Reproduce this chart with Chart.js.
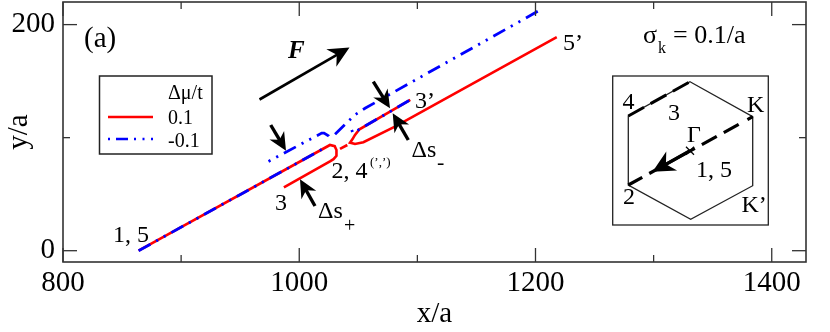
<!DOCTYPE html>
<html>
<head>
<meta charset="utf-8">
<title>Chart</title>
<script src="https://cdn.jsdelivr.net/npm/chart.js@4"></script>
<style>
  html, body { margin: 0; padding: 0; background: #fff; }
  canvas { display: block; }
</style>
</head>
<body>
<canvas id="grafica" width="830" height="332"></canvas>
<script>
// ======= DATOS =======
const xTicks = [800, 900, 1000, 1100, 1200, 1300, 1400];
const yTicks = [0, 100, 200];
const xLabels = [800, 1000, 1200, 1400];
const yLabels = [0, 200];
const legendTitle = "\u0394\u03bc/t";
const legendNames = ["0.1", "-0.1"];

// linea roja (0.1)
const redMain = [[864, 0], [1026, 93.5], [1030, 92.5], [1031.5, 89], [1031.5, 84], [1029, 81], [1026, 79], [987, 56]];
const redBridge = [[1034.5, 90], [1040.7, 93.5]];
const redUpper = [[1094, 133.4], [1051, 107.4], [1047.2, 102.4], [1045, 98.5], [1043, 95.6], [1047.2, 94.4], [1054.3, 95.9], [1081, 109.7], [1218, 188.9]];

// linea azul (-0.1)
const blueMain = [[864, 0], [1023, 91.8]];
const blueArc = [[974, 79], [1019, 104], [1021, 104], [1025, 101.5], [1027.5, 98]];
const blueUpper = [[1030.3, 103], [1047, 120], [1055.7, 126], [1204, 213]];
const blueLower = [[1044.4, 106.8], [1045.5, 104], [1051, 107.4], [1094, 133.4]];

const pares = a => a.map(p => ({ x: p[0], y: p[1] }));
const rojo = d => ({ data: pares(d), order: 2, borderColor: "#ff0000", borderWidth: 2.6, pointRadius: 0, tension: 0, fill: false });
// el azul va encima del rojo (order menor se dibuja al final)
const azul = (d, desfase) => ({ data: pares(d), order: 1, borderColor: "#0000ff", borderWidth: 2.8, borderDash: [13.5, 6.5, 2.2, 6.5, 2.2, 6.5], borderDashOffset: desfase || 0, pointRadius: 0, tension: 0, fill: false });

// ======= ANOTACIONES =======
const SERIF = '"Liberation Serif", "Times New Roman", serif';

function texto(ctx, s, x, y, size, estilo) {
  ctx.font = (estilo || "") + " " + size + "px " + SERIF;
  ctx.textAlign = "left";
  ctx.textBaseline = "alphabetic";
  ctx.fillStyle = "#000";
  ctx.fillText(s, x, y);
}

function linea(ctx, x1, y1, x2, y2, ancho, color, dash) {
  ctx.save();
  ctx.beginPath();
  ctx.moveTo(x1, y1);
  ctx.lineTo(x2, y2);
  ctx.lineWidth = ancho;
  ctx.strokeStyle = color || "#000";
  ctx.setLineDash(dash || []);
  ctx.stroke();
  ctx.restore();
}

function flecha(ctx, x1, y1, x2, y2, ancho, largo, medio) {
  const a = Math.atan2(y2 - y1, x2 - x1);
  const cx = Math.cos(a), sy = Math.sin(a);
  linea(ctx, x1, y1, x2 - cx * largo * 0.6, y2 - sy * largo * 0.6, ancho);
  ctx.beginPath();
  ctx.moveTo(x2, y2);
  ctx.lineTo(x2 - cx * largo - sy * medio, y2 - sy * largo + cx * medio);
  ctx.lineTo(x2 - cx * largo * 0.7, y2 - sy * largo * 0.7);
  ctx.lineTo(x2 - cx * largo + sy * medio, y2 - sy * largo - cx * medio);
  ctx.closePath();
  ctx.fillStyle = "#000";
  ctx.fill();
}

const marco = {
  id: "marco",
  afterDatasetsDraw(chart) {
    const ctx = chart.ctx;
    const { left, right, top, bottom } = chart.chartArea;
    const sx = chart.scales.x, sy = chart.scales.y;
    const tono = "#333";

    // marcas hacia adentro en los cuatro lados
    xTicks.forEach(v => {
      const p = sx.getPixelForValue(v);
      const l = xLabels.includes(v) ? 14 : 7;
      linea(ctx, p, bottom, p, bottom - l, 1.3, tono);
      linea(ctx, p, top, p, top + l, 1.3, tono);
    });
    yTicks.forEach(v => {
      const p = sy.getPixelForValue(v);
      const l = yLabels.includes(v) ? 14 : 7;
      linea(ctx, left, p, left + l, p, 1.3, tono);
      linea(ctx, right, p, right - l, p, 1.3, tono);
    });
    ctx.lineWidth = 1.6;
    ctx.strokeStyle = tono;
    ctx.strokeRect(left, top, right - left, bottom - top);

    // leyenda
    ctx.lineWidth = 1.5;
    ctx.strokeStyle = "#222";
    ctx.strokeRect(99.5, 76, 112.5, 78);
    texto(ctx, legendTitle, 168, 98.5, 20);
    texto(ctx, legendNames[0], 168, 124, 20);
    texto(ctx, legendNames[1], 168, 147, 20);
    linea(ctx, 108, 117, 153, 117, 2.4, "#ff0000");
    linea(ctx, 108, 139, 154, 139, 2.6, "#0000ff", [2, 6, 12, 6, 2, 6.5, 2, 6.5, 2, 6]);

    // textos del panel
    texto(ctx, "(a)", 84, 47, 29);
    texto(ctx, "F", 288, 58, 25, "italic bold");
    texto(ctx, "1, 5", 113, 241.5, 24);
    texto(ctx, "3", 275, 210, 24);
    texto(ctx, "2, 4", 331.5, 178, 24);
    texto(ctx, "(\u2019,\u2019)", 370, 166, 13);
    texto(ctx, "3\u2019", 415, 108, 24);
    texto(ctx, "5\u2019", 563, 49.5, 24);
    texto(ctx, "\u0394s", 318, 218, 24);
    texto(ctx, "+", 344, 232, 20);
    texto(ctx, "\u0394s", 411.5, 156.5, 24);
    texto(ctx, "-", 437, 168.5, 22);
    texto(ctx, "\u03c3", 643, 42.5, 26);
    texto(ctx, "k", 658, 53, 16);
    texto(ctx, "= 0.1/a", 673, 42.5, 26);

    // flechas
    flecha(ctx, 259.5, 99.5, 349.5, 47.5, 2.6, 21, 10);
    flecha(ctx, 270.7, 125, 286, 150.7, 3.4, 18, 8.5);
    flecha(ctx, 373.3, 81.7, 390, 108.3, 3.4, 18, 8.5);
    flecha(ctx, 408.3, 140, 392.7, 113.3, 3.4, 18, 8.5);
    flecha(ctx, 315, 206, 300, 179.3, 3.4, 18, 8.5);

    // recuadro: zona de Brillouin
    ctx.lineWidth = 1.3;
    ctx.strokeStyle = "#222";
    ctx.strokeRect(612.7, 76, 155.6, 149);
    ctx.beginPath();
    ctx.moveTo(690, 81.7);
    ctx.lineTo(752.7, 116.7);
    ctx.lineTo(752.7, 185.7);
    ctx.lineTo(690.7, 219.3);
    ctx.lineTo(628.3, 185);
    ctx.lineTo(628.3, 116);
    ctx.closePath();
    ctx.stroke();
    linea(ctx, 628.3, 116, 690, 81.7, 3, "#000", [18, 7.5]);
    linea(ctx, 752.7, 116.7, 628.3, 185, 3.2, "#000", [6, 10, 17, 8, 17, 8, 30, 0, 22, 8, 18, 40]);
    flecha(ctx, 690, 150.7, 652.5, 171.8, 3.2, 22, 11);
    linea(ctx, 686, 146.7, 694, 154.7, 1.3);
    linea(ctx, 694, 146.7, 686, 154.7, 1.3);
    texto(ctx, "4", 622.5, 108.5, 24);
    texto(ctx, "3", 668, 120, 24);
    texto(ctx, "K", 747, 111.5, 24);
    texto(ctx, "\u0393", 687, 141.5, 24);
    texto(ctx, "1, 5", 696, 177, 24);
    texto(ctx, "2", 623, 204, 24);
    texto(ctx, "K\u2019", 741.5, 211.5, 24);
  }
};

// ======= GRAFICA =======
new Chart(document.getElementById("grafica").getContext("2d"), {
  type: "line",
  data: {
    datasets: [rojo(redMain), rojo(redBridge), rojo(redUpper), azul(blueMain), azul(blueArc, 20), azul(blueUpper), azul(blueLower, 20)]
  },
  plugins: [marco],
  options: {
    responsive: false,
    animation: false,
    devicePixelRatio: 1,
    layout: { padding: { top: 2, right: 24, left: 0, bottom: 0 } },
    plugins: { legend: { display: false }, title: { display: false }, tooltip: { enabled: false } },
    scales: {
      x: {
        type: "linear",
        min: 800,
        max: 1429,
        afterBuildTicks: s => { s.ticks = xTicks.map(v => ({ value: v })); },
        afterFit: s => { s.height = 70; s.paddingLeft = 0; s.paddingRight = 0; },
        grid: { display: false, drawTicks: false },
        border: { display: false },
        ticks: {
          autoSkip: false,
          maxRotation: 0,
          padding: 4,
          color: "#000",
          font: { family: SERIF, size: 29 },
          callback: v => xLabels.includes(v) ? String(v) : ""
        },
        title: { display: true, text: "x/a", color: "#000", font: { family: SERIF, size: 29 }, padding: { top: 0, bottom: 0 } }
      },
      y: {
        type: "linear",
        min: -10,
        max: 220,
        afterBuildTicks: s => { s.ticks = yTicks.map(v => ({ value: v })); },
        afterFit: s => { s.width = 63; s.paddingTop = 0; s.paddingBottom = 0; },
        grid: { display: false, drawTicks: false },
        border: { display: false },
        ticks: {
          autoSkip: false,
          padding: 8,
          color: "#000",
          font: { family: SERIF, size: 29 },
          callback: v => yLabels.includes(v) ? String(v) : ""
        },
        title: { display: true, text: "y/a", color: "#000", font: { family: SERIF, size: 29 }, padding: { top: 2, bottom: 0 } }
      }
    }
  }
});
</script>
</body>
</html>
